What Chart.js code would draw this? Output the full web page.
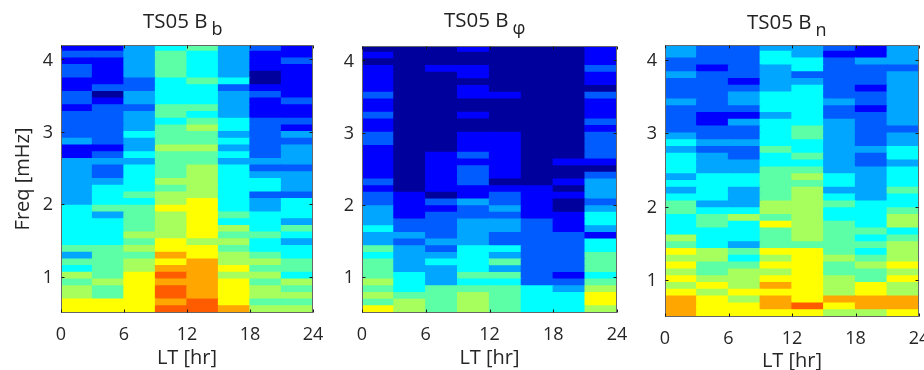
<!DOCTYPE html>
<html>
<head>
<meta charset="utf-8">
<title>TS05 field spectra</title>
<script src="https://cdn.jsdelivr.net/npm/chart.js@4/dist/chart.umd.min.js"></script>
<style>
  html, body { margin: 0; padding: 0; background: #fff; }
  body { position: relative; width: 924px; height: 370px; overflow: hidden; }
  canvas { position: absolute; filter: blur(0.35px); }
  .title { position: absolute; font: 20.5px "Open Sans", sans-serif; color: #222; white-space: nowrap; line-height: 22px; filter: blur(0.35px); }
  .title span { position: relative; top: 7px; margin-left: 4px; font-size: 18px; }
</style>
</head>
<body>
<div class="title" style="left:143px;top:9px">TS05 B<span>b</span></div>
<div class="title" style="left:444px;top:8px">TS05 B<span>φ</span></div>
<div class="title" style="left:747px;top:10px">TS05 B<span>n</span></div>
<canvas id="panel0" width="327" height="335" style="left:0;top:35px"></canvas>
<canvas id="panel1" width="309" height="334" style="left:322px;top:36px"></canvas>
<canvas id="panel2" width="308" height="338" style="left:625px;top:35px"></canvas>
<script>
// Colour level per cell, one array per LT column, frequency rows from top to bottom.
const bbLevels = [
  [1,2,1,2,2,1,1,2,2,1, 2,2,2,2,3,1,1,3,3,3, 3,3,3,3,4,4,4,4,4,4, 5,3,5,4,6,5,6,6,7,7],
  [1,2,1,1,1,1,2,0,1,2, 2,2,2,2,2,1,2,3,2,2, 3,4,4,4,5,3,4,4,4,4, 5,5,5,5,5,6,5,5,7,7],
  [3,3,3,3,3,2,2,3,3,2, 3,3,3,4,3,3,4,3,4,4, 4,4,5,4,5,5,5,5,6,5, 6,5,6,6,7,7,7,7,7,7],
  [4,5,5,5,5,4,4,4,4,5, 5,4,5,5,5,6,5,5,5,5, 6,5,6,6,7,6,6,6,6,7, 7,8,7,8,9,8,9,9,8,9],
  [5,4,4,4,4,5,4,4,4,5, 4,5,6,5,5,6,5,5,6,6, 6,6,6,7,7,7,7,7,7,6, 7,7,8,8,8,8,8,8,9,9],
  [3,3,3,3,3,4,2,3,3,3, 3,4,4,3,4,3,4,3,4,4, 4,4,4,4,4,5,4,6,5,6, 5,6,6,7,6,7,7,7,7,8],
  [2,1,1,1,0,0,1,2,1,1, 1,2,2,2,2,2,2,3,2,3, 4,4,2,3,3,4,4,4,5,4, 4,5,6,5,6,5,6,6,5,6],
  [1,1,2,1,1,1,1,1,2,1, 1,2,1,3,2,3,3,3,2,3, 3,3,2,4,4,4,3,5,4,3, 4,4,5,5,4,6,5,6,5,6]
];
const bphiLevels = [
  [0,1,0,1,1,1,1,2,1,1, 2,1,1,2,2,1,1,1,1,1, 2,1,2,2,3,3,3,4,3,3, 5,4,5,5,5,6,5,6,5,7],
  [0,0,0,0,0,0,0,0,0,0, 0,0,0,0,0,0,0,0,0,0, 0,0,1,1,1,1,2,2,3,2, 3,3,3,3,4,4,4,5,6,6],
  [0,0,0,1,0,0,0,0,0,0, 0,0,0,0,0,0,1,1,1,1, 1,1,0,2,1,2,2,2,2,3, 2,3,4,3,3,3,5,5,5,5],
  [1,0,0,1,1,0,1,1,0,0, 1,0,0,1,1,1,2,1,2,2, 2,1,1,3,2,2,3,3,3,3, 4,4,4,4,5,4,5,6,6,6],
  [0,0,0,0,0,0,0,1,0,0, 0,0,0,1,1,1,1,1,1,1, 0,1,2,2,3,2,3,3,2,2, 4,3,5,3,5,4,5,5,5,5],
  [0,0,0,0,0,0,0,0,0,0, 0,0,0,0,0,0,0,0,0,0, 0,1,1,1,1,1,2,2,2,2, 2,2,2,2,2,2,4,4,4,4],
  [0,0,0,0,0,0,0,0,0,0, 0,0,0,0,0,0,0,1,0,0, 1,0,1,0,0,1,1,1,2,2, 2,2,2,2,1,2,3,4,4,4],
  [1,1,1,2,1,1,0,2,1,1, 1,2,1,2,2,2,2,1,0,2, 3,3,3,2,3,4,4,3,1,4, 4,5,5,5,4,5,6,7,7,6]
];
const bnLevels = [
  [3,3,2,2,3,2,2,2,3,2, 2,2,2,3,4,3,4,4,4,3, 4,3,4,5,5,4,4,4,6,5, 7,6,7,6,7,6,7,8,8,8],
  [2,2,2,1,2,2,2,2,2,2, 1,1,2,2,3,2,3,3,3,4, 4,4,4,3,4,5,5,4,4,4, 6,6,5,5,6,7,6,7,7,7],
  [2,2,2,2,2,1,2,3,3,2, 1,3,2,2,3,2,2,3,3,4, 4,3,3,3,4,6,4,4,4,3, 5,4,5,6,6,6,7,6,7,7],
  [3,4,4,3,3,3,3,4,4,4, 3,4,4,4,4,5,4,4,5,5, 5,5,5,6,6,5,7,5,5,5, 7,6,7,6,7,8,7,8,8,7],
  [3,3,4,4,2,3,4,4,4,4, 4,4,5,5,4,4,5,4,5,6, 5,6,6,6,6,6,6,6,6,5, 7,7,7,7,7,7,7,7,9,7],
  [2,1,2,2,2,2,2,2,3,2, 2,3,3,3,3,3,3,3,3,4, 4,3,4,5,4,4,5,5,5,5, 5,6,5,5,6,6,6,8,7,6],
  [1,1,3,2,2,2,1,2,2,1, 2,2,2,2,2,3,2,2,3,3, 3,3,3,4,4,4,4,5,4,5, 4,5,6,5,5,7,7,8,8,6],
  [3,3,3,2,3,3,3,3,3,3, 3,3,2,3,3,4,4,3,4,4, 4,5,4,4,5,6,6,4,5,6, 6,6,7,6,7,6,6,8,8,7]
];
const ltCenters = [1.5, 4.5, 7.5, 10.5, 13.5, 16.5, 19.5, 22.5];
const ltTicks = [0, 6, 12, 18, 24];
const freqTicks = [1, 2, 3, 4];

const FREQ_MIN = 0.5;
const FREQ_MAX = 4.2;
const ROW_COUNT = 40;

// jet-like map, quantised the way the picture is
const LEVEL_COLORS = [
  '#00009c', '#0000ff', '#005cff', '#00a6ff', '#00ffff',
  '#5cffa6', '#a6ff5c', '#ffff00', '#ffa600', '#ff5c00'
];

// canvas offsets are in the html above, this is the plot box inside each canvas
const PANELS = [
  { canvas: 'panel0', levels: bbLevels, yTitle: 'Freq [mHz]', left: 61, top: 10, xAxisHeight: 57 },
  { canvas: 'panel1', levels: bphiLevels, yTitle: '', left: 40, top: 10, xAxisHeight: 57 },
  { canvas: 'panel2', levels: bnLevels, yTitle: '', left: 40, top: 10, xAxisHeight: 56 }
];

const TEXT_COLOR = '#262626';
const FONT_FAMILY = '"Open Sans", sans-serif';

// MATLAB style box with inward ticks on all four sides
const boxPlugin = {
  id: 'matlabBox',
  afterDatasetsDraw(chart) {
    const { ctx, chartArea: a, scales } = chart;
    const left = Math.round(a.left) + 0.5;
    const right = Math.round(a.right) - 0.5;
    const top = Math.round(a.top) + 0.5;
    const bottom = Math.round(a.bottom) - 0.5;
    ctx.save();
    ctx.strokeStyle = '#666666';
    ctx.lineWidth = 1;
    ctx.strokeRect(left, top, right - left, bottom - top);
    ctx.strokeStyle = '#1a1a1a';
    ctx.beginPath();
    ltTicks.forEach((v) => {
      const x = Math.round(scales.x.getPixelForValue(v)) + 0.5;
      ctx.moveTo(x, bottom); ctx.lineTo(x, bottom - 3);
      ctx.moveTo(x, top); ctx.lineTo(x, top + 3);
    });
    freqTicks.forEach((v) => {
      const y = Math.round(scales.y.getPixelForValue(v)) + 0.5;
      ctx.moveTo(left, y); ctx.lineTo(left + 3, y);
      ctx.moveTo(right, y); ctx.lineTo(right - 3, y);
    });
    ctx.stroke();
    ctx.restore();
  }
};

function buildDatasets(levels) {
  const rowHeight = (FREQ_MAX - FREQ_MIN) / ROW_COUNT;
  const datasets = [];
  // bottom row first, each bar runs a little into the next row to hide seams
  for (let row = ROW_COUNT - 1; row >= 0; row -= 1) {
    const low = FREQ_MIN + (ROW_COUNT - 1 - row) * rowHeight;
    datasets.push({
      data: ltCenters.map((x) => ({ x, y: [low, low + rowHeight * 1.15] })),
      backgroundColor: levels.map((col) => LEVEL_COLORS[col[row]]),
      borderWidth: 0,
      barPercentage: 1.04,
      categoryPercentage: 1
    });
  }
  return datasets;
}

// tick labels must not push the plot box around, the padding is set by layout
function clearScalePadding(scale) {
  scale.paddingTop = 0;
  scale.paddingBottom = 0;
  scale.paddingLeft = 0;
  scale.paddingRight = 0;
}

function renderPanel(panel) {
  const canvas = document.getElementById(panel.canvas);
  new Chart(canvas, {
    type: 'bar',
    data: { datasets: buildDatasets(panel.levels) },
    plugins: [boxPlugin],
    options: {
      responsive: false,
      animation: false,
      parsing: { xAxisKey: 'x', yAxisKey: 'y' },
      layout: { padding: { left: 0, top: panel.top, right: 14, bottom: 0 } },
      plugins: { legend: { display: false }, tooltip: { enabled: false } },
      scales: {
        x: {
          type: 'linear',
          stacked: true,
          offset: false,
          min: 0,
          max: 24,
          afterBuildTicks(scale) { scale.ticks = ltTicks.map((value) => ({ value })); },
          afterFit(scale) { scale.height = panel.xAxisHeight; clearScalePadding(scale); },
          grid: { display: false },
          border: { display: false },
          ticks: {
            maxRotation: 0,
            autoSkip: false,
            padding: 3,
            color: TEXT_COLOR,
            font: { family: FONT_FAMILY, size: 18 },
            callback: (v) => String(v)
          },
          title: {
            display: true,
            text: 'LT [hr]',
            color: TEXT_COLOR,
            padding: { top: 0, bottom: 0 },
            font: { family: FONT_FAMILY, size: 20 }
          }
        },
        y: {
          type: 'linear',
          min: FREQ_MIN,
          max: FREQ_MAX,
          afterBuildTicks(scale) { scale.ticks = freqTicks.map((value) => ({ value })); },
          afterFit(scale) { scale.width = panel.left; clearScalePadding(scale); },
          grid: { display: false },
          border: { display: false },
          ticks: {
            padding: 0,
            labelOffset: 1,
            color: TEXT_COLOR,
            font: { family: FONT_FAMILY, size: 18 },
            callback: (v) => String(v)
          },
          title: {
            display: panel.yTitle !== '',
            text: panel.yTitle,
            color: TEXT_COLOR,
            padding: { top: 11, bottom: 0 },
            font: { family: FONT_FAMILY, size: 20 }
          }
        }
      }
    }
  });
}

PANELS.forEach(renderPanel);
</script>
</body>
</html>
